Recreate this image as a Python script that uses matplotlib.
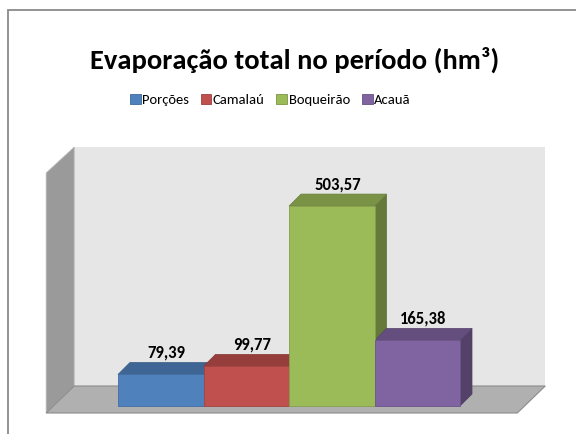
import matplotlib
matplotlib.use("Agg")
import matplotlib.pyplot as plt
from matplotlib.patches import Polygon, Rectangle
from matplotlib.colors import to_rgb

# data
categories = ["Porções", "Camalaú", "Boqueirão", "Acauã"]
values = [79.39, 99.77, 503.57, 165.38]
labels = ["79,39", "99,77", "503,57", "165,38"]
colors = ["#4F81BD", "#C0504D", "#9BBB59", "#8064A2"]

title = "Evaporação total no período (hm³)"

FONT = ["Carlito", "DejaVu Sans"]


def shade(c, f):
    r, g, b = to_rgb(c)
    return (r * f, g * f, b * f)


fig = plt.figure(figsize=(5.76, 4.34), dpi=100)
ax = fig.add_axes([0, 0, 1, 1])

# pixel mapping: bar slot = 85.5 px, value unit = 0.397 px
px_x = 85.5
px_y = 0.397
x0_px = 118.0
y0_px = 406.0
W, H = 576.0, 434.0
ax.set_xlim((0 - x0_px) / px_x - 0.5, (W - x0_px) / px_x - 0.5)
ax.set_ylim((y0_px - H) / px_y, y0_px / px_y)
ax.axis("off")

# 3d offsets (in data units)
bar_dx = 12 / px_x
bar_dy = 12 / px_y
floor_front = -7 / px_y
floor_back = 20 / px_y
floor_left = -1.34
floor_right = 4.17
wall_dx = 28 / px_x
wall_top = 652.0
side_top = 587.0

# back wall
ax.add_patch(Polygon([(floor_left + wall_dx, floor_back), (floor_right + wall_dx, floor_back),
                      (floor_right + wall_dx, wall_top), (floor_left + wall_dx, wall_top)],
                     closed=True, facecolor="#e6e6e6", edgecolor="none", zorder=1))
# side wall
ax.add_patch(Polygon([(floor_left, floor_front), (floor_left + wall_dx, floor_back),
                      (floor_left + wall_dx, wall_top), (floor_left, side_top)],
                     closed=True, facecolor="#9a9a9a", edgecolor="#b8b8b8", lw=0.6, zorder=1))
# floor
ax.add_patch(Polygon([(floor_left, floor_front), (floor_right, floor_front),
                      (floor_right + wall_dx, floor_back), (floor_left + wall_dx, floor_back)],
                     closed=True, facecolor="#b0b0b0", edgecolor="#8c8c8c", lw=0.8, zorder=2))

xs = list(range(len(values)))
ax.bar(xs, values, width=1.0, color=colors, edgecolor=[shade(c, 0.85) for c in colors],
       linewidth=0.6, zorder=5)

for x, v, c, lab in zip(xs, values, colors, labels):
    left, right = x - 0.5, x + 0.5
    # top face
    ax.add_patch(Polygon([(left, v), (right, v), (right + bar_dx, v + bar_dy), (left + bar_dx, v + bar_dy)],
                         closed=True, facecolor=shade(c, 0.78), edgecolor=shade(c, 0.7), lw=0.5, zorder=4))
    # side face
    ax.add_patch(Polygon([(right, 0), (right + bar_dx, bar_dy), (right + bar_dx, v + bar_dy), (right, v)],
                         closed=True, facecolor=shade(c, 0.65), edgecolor=shade(c, 0.6), lw=0.5, zorder=3))
    ax.text(x + bar_dx / 2, v + bar_dy + 4, lab, ha="center", va="bottom",
            fontsize=12, fontweight="bold", family=FONT, zorder=6)

# chart border
fig.patches.append(Rectangle((8 / W, -0.1), 1.2, 1 - 10 / H + 0.1, transform=fig.transFigure,
                             facecolor="none", edgecolor="#8a8a8a", lw=1.3))

fig.text(0.512, 1 - 60 / H, title, ha="center", va="center", fontsize=20.5,
         fontweight="bold", family=FONT)

handles = [Rectangle((0, 0), 1, 1, facecolor=c, edgecolor=shade(c, 0.8), lw=0.6) for c in colors]
fig.legend(handles, categories, loc="center", bbox_to_anchor=(0.469, 1 - 100 / H), ncol=4,
           frameon=False, handlelength=0.75, handleheight=0.75, handletextpad=0.1,
           columnspacing=0.8, prop={"family": FONT, "size": 10.5})

fig.savefig("out.png", dpi=100)
